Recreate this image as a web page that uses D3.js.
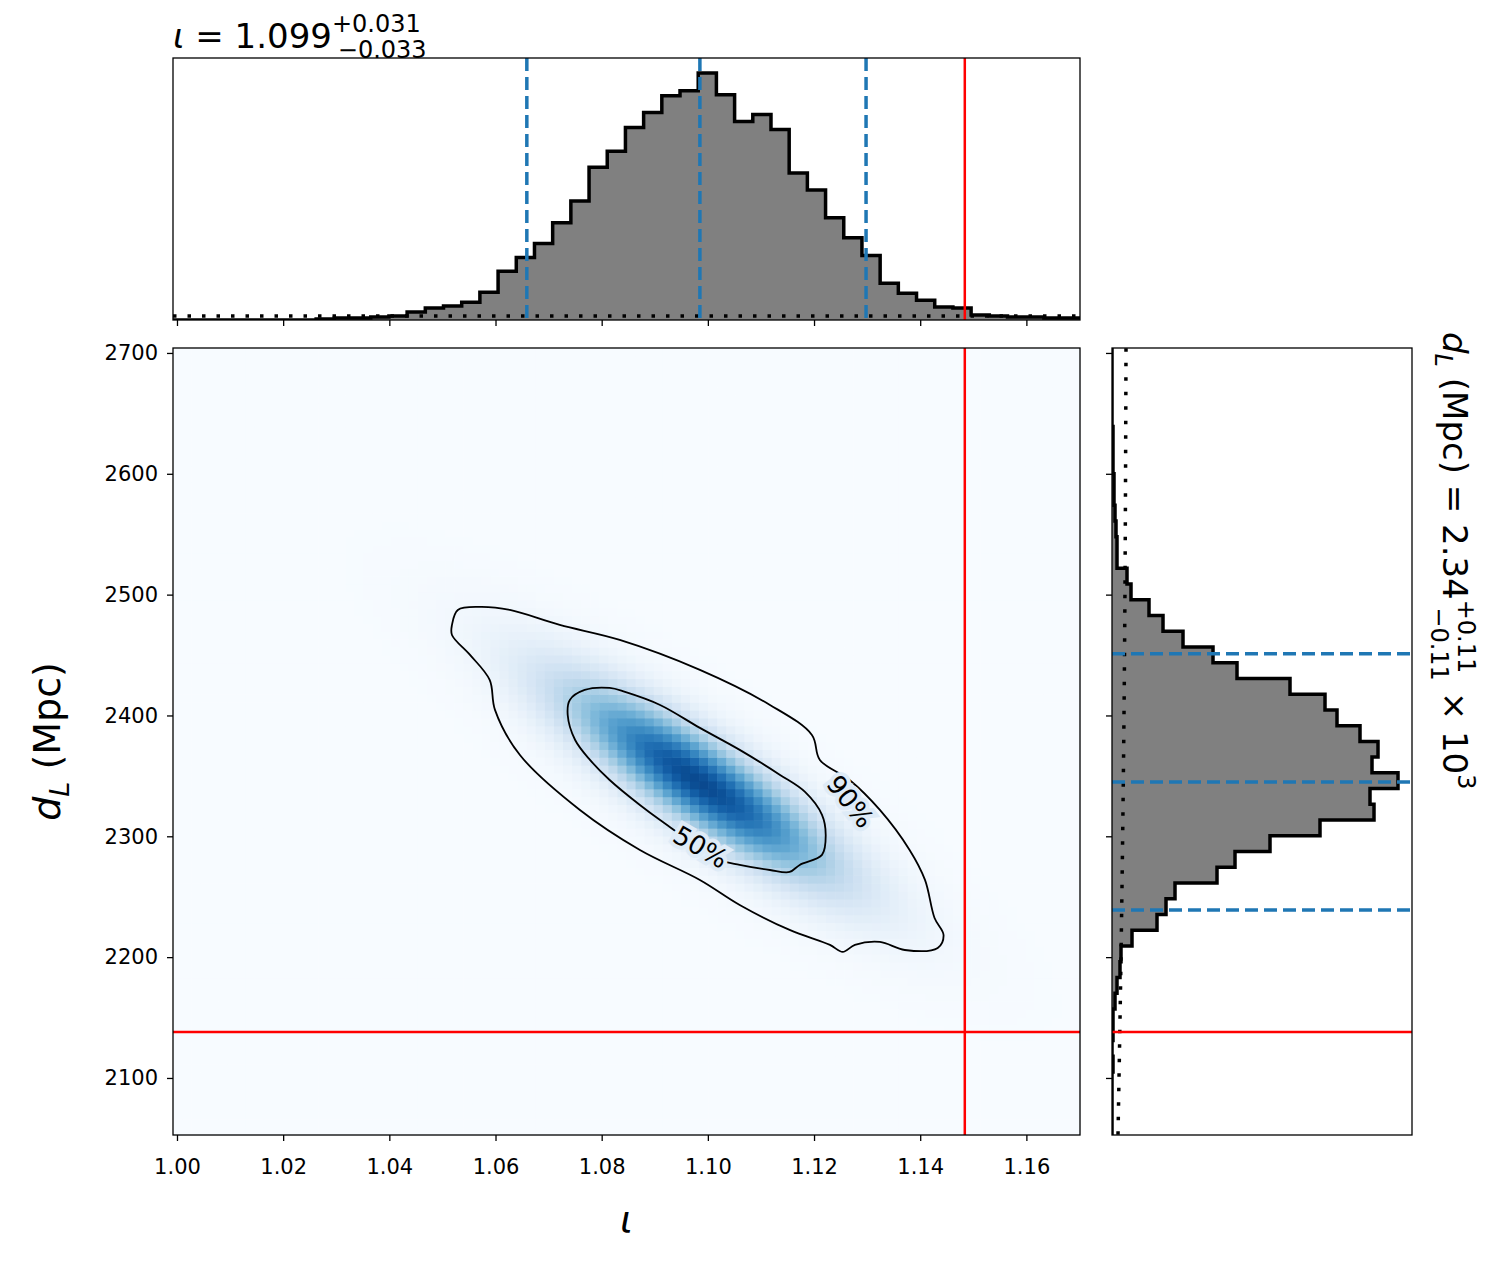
<!DOCTYPE html>
<html><head><meta charset="utf-8">
<script src="https://cdn.jsdelivr.net/npm/d3@7"></script>
<style>body{margin:0;background:#fff}text{font-family:"DejaVu Sans",sans-serif}</style>
</head><body><div id="chart"></div>
<script>
// marginal histogram of iota: 50 bins starting at 0.9988
const iotaBinStart = 0.9988, iotaBinWidth = 0.003427;
const iotaCounts = [0,0,0,0,0,0,0,0,1,2,2,3,4, 8,12,14,18,28,49,63,77,98,120,154,170,194,209,226,231,249,227,200,207,192,148,131,103,83,65,37,27,20,13,12,5, 4,3,3,2,2];
const iotaPrior = 4;
// marginal histogram of d_L: 50 bins starting at 2052.8 (bottom to top)
const dlBinStart = 2052.8, dlBinWidth = 13.03;
const dlCounts = [0,0,0,0,1,0,1,1,3,5,8,9,20,45,54,63,105,123,158,208,262,258,286,260,266,248,225,213,178,125,101,71,51,37,19,15,5,5,4,3,2,2,1,1,1,0,0,0,0,0];
const dlPrior = [[2053,6],[2200,9],[2400,12],[2704,14]];
// quantiles and true values
const iotaQuant = [1.0659, 1.0985, 1.1298];
const dlQuant = [2239, 2345, 2451];
const iotaTrue = 1.1484, dlTrue = 2138;
const xTicks = [1.00,1.02,1.04,1.06,1.08,1.10,1.12,1.14,1.16];
const yTicks = [2100,2200,2300,2400,2500,2600,2700];
// credible contours [iota, d_L]
const contour90 = [[1.0518,2474.9],[1.0529,2487.3],[1.0571,2489.8],[1.0627,2487.3],[1.0721,2474.9],[1.0834,2462.5],[1.0985,2437.7],[1.1117,2408.7],[1.1196,2383.9],[1.1211,2363.2],[1.1267,2346.6],[1.1324,2321.8],[1.1380,2288.7],[1.1409,2263.9],[1.1427,2232.4],[1.1444,2218.3],[1.1433,2207.6],[1.1371,2205.9],[1.1324,2212.6],[1.1277,2210.1],[1.1254,2204.3],[1.1230,2210.1],[1.1154,2222.5],[1.1060,2243.2],[1.0985,2263.9],[1.0872,2288.7],[1.0759,2321.8],[1.0646,2367.3],[1.0599,2404.6],[1.0589,2429.4],[1.0552,2450.1],[1.0518,2466.6]];
const contour50 = [[1.0740,2412.8],[1.0768,2421.1],[1.0815,2422.8],[1.0844,2419.5],[1.0910,2408.7],[1.0985,2389.7],[1.1060,2371.5],[1.1136,2350.8],[1.1183,2336.7],[1.1215,2317.7],[1.1222,2301.1],[1.1215,2284.6],[1.1173,2276.3],[1.1154,2270.5],[1.1117,2272.1],[1.1060,2276.3],[1.1023,2280.4],[1.0910,2313.5],[1.0872,2325.9],[1.0815,2346.6],[1.0778,2363.2],[1.0750,2379.7],[1.0736,2400.4]];
const labels = [{t:"90%", x:1.1266, y:2328, rot:52},{t:"50%", x:1.0985, y:2290, rot:30}];
// estimated posterior shape for the density image
const densCenter = [1.0985, 2345], densSigma = [0.0165, 52], densRho = -0.86;
const nCells = 100;

const W = 1502, H = 1263;
const svg = d3.select("#chart").append("svg").attr("width", W).attr("height", H);
const main = {l:173, r:1080, t:348, b:1135};
const top_ = {t:58, b:320};
const side = {l:1112, r:1412};

const x = d3.scaleLinear().domain([0.99925, 1.1701]).range([main.l, main.r]);
const y = d3.scaleLinear().domain([2052.8, 2704.1]).range([main.b, main.t]);
const yTop = d3.scaleLinear().domain([0, 264]).range([top_.b, top_.t]);
const xSide = d3.scaleLinear().domain([0, 300]).range([side.l, side.r]);

// density image
const gImg = svg.append("g");
const [xd0, xd1] = x.domain(), [yd0, yd1] = y.domain();
const dx = (xd1 - xd0) / nCells, dy = (yd1 - yd0) / nCells;
const cells = [];
for (let i = 0; i < nCells; i++) for (let j = 0; j < nCells; j++) {
  const cx = xd0 + (i + 0.5) * dx, cy = yd0 + (j + 0.5) * dy;
  const u = (cx - densCenter[0]) / densSigma[0], v = (cy - densCenter[1]) / densSigma[1];
  const q = (u*u - 2*densRho*u*v + v*v) / (1 - densRho*densRho);
  const val = Math.exp(-q / 2) * 0.88 + Math.exp(-q / 5) * 0.07;
  cells.push({x0: xd0 + i*dx, y0: yd0 + j*dy, val});
}
const color = d3.scaleSequential(d3.interpolateBlues).domain([0, 1.05]);
gImg.selectAll("rect").data(cells).join("rect")
  .attr("x", d => x(d.x0)).attr("y", d => y(d.y0 + dy))
  .attr("width", x(xd0 + dx) - x(xd0) + 0.6).attr("height", y(yd0) - y(yd0 + dy) + 0.6)
  .attr("fill", d => color(d.val));

const line = d3.line().x(d => x(d[0])).y(d => y(d[1])).curve(d3.curveCatmullRomClosed);
[contour90, contour50].forEach(c => svg.append("path").attr("d", line(c))
  .attr("fill", "none").attr("stroke", "#000").attr("stroke-width", 1.8));
labels.forEach(l => svg.append("text")
  .attr("transform", `translate(${x(l.x)},${y(l.y)}) rotate(${l.rot})`)
  .attr("text-anchor", "middle").attr("dominant-baseline", "middle")
  .attr("font-size", 26).attr("paint-order", "stroke")
  .attr("stroke", "#deebf7").attr("stroke-width", 8).text(l.t));

// true value lines in main
svg.append("line").attr("x1", x(iotaTrue)).attr("x2", x(iotaTrue)).attr("y1", main.t).attr("y2", main.b).attr("stroke", "red").attr("stroke-width", 2.5);
svg.append("line").attr("x1", main.l).attr("x2", main.r).attr("y1", y(dlTrue)).attr("y2", y(dlTrue)).attr("stroke", "red").attr("stroke-width", 2.5);
svg.append("rect").attr("x", main.l).attr("y", main.t).attr("width", main.r - main.l).attr("height", main.b - main.t).attr("fill", "none").attr("stroke", "#000").attr("stroke-width", 1.3);

// axes main
const ax = svg.append("g").attr("transform", `translate(0,${main.b})`)
  .call(d3.axisBottom(x).tickValues(xTicks).tickFormat(d3.format(".2f")).tickSize(6).tickPadding(18));
const ay = svg.append("g").attr("transform", `translate(${main.l},0)`)
  .call(d3.axisLeft(y).tickValues(yTicks).tickFormat(d3.format("d")).tickSize(6).tickPadding(9));
[ax, ay].forEach(a => { a.select(".domain").remove(); a.selectAll("text").attr("font-size", 21).attr("fill", "#000"); a.selectAll("line").attr("stroke-width", 1.3); });
ax.selectAll("line").attr("y2", 6);

// top histogram
const iotaBins = iotaCounts.map((c, i) => ({x0: iotaBinStart + i*iotaBinWidth, x1: iotaBinStart + (i+1)*iotaBinWidth, c}));
const stepTop = [];
iotaBins.forEach(b => { stepTop.push([b.x0, b.c]); stepTop.push([b.x1, b.c]); });
svg.append("clipPath").attr("id", "ct").append("rect").attr("x", main.l).attr("y", top_.t).attr("width", main.r - main.l).attr("height", top_.b - top_.t);
const gTop = svg.append("g").attr("clip-path", "url(#ct)");
gTop.append("path").attr("d", d3.area().x(d => x(d[0])).y0(yTop(0)).y1(d => yTop(d[1]))(stepTop)).attr("fill", "#808080");
gTop.append("path").attr("d", d3.line().x(d => x(d[0])).y(d => yTop(d[1]))(stepTop)).attr("fill", "none").attr("stroke", "#000").attr("stroke-width", 3.5);
gTop.append("line").attr("x1", main.l).attr("x2", main.r).attr("y1", yTop(iotaPrior)).attr("y2", yTop(iotaPrior)).attr("stroke", "#000").attr("stroke-width", 3.5).attr("stroke-dasharray", "3.5,11");
iotaQuant.forEach(q => gTop.append("line").attr("x1", x(q)).attr("x2", x(q)).attr("y1", top_.t).attr("y2", top_.b).attr("stroke", "#1f77b4").attr("stroke-width", 3.5).attr("stroke-dasharray", "13,6"));
gTop.append("line").attr("x1", x(iotaTrue)).attr("x2", x(iotaTrue)).attr("y1", top_.t).attr("y2", top_.b).attr("stroke", "red").attr("stroke-width", 2.5);
svg.append("rect").attr("x", main.l).attr("y", top_.t).attr("width", main.r - main.l).attr("height", top_.b - top_.t).attr("fill", "none").attr("stroke", "#000").attr("stroke-width", 1.3);
const axt = svg.append("g").attr("transform", `translate(0,${top_.b})`).call(d3.axisBottom(x).tickValues(xTicks).tickFormat("").tickSize(6));
axt.select(".domain").remove(); axt.selectAll("line").attr("stroke-width", 1.3);

// side histogram
const dlBins = dlCounts.map((c, i) => ({y0: dlBinStart + i*dlBinWidth, y1: dlBinStart + (i+1)*dlBinWidth, c}));
const stepSide = [];
dlBins.forEach(b => { stepSide.push([b.c, b.y0]); stepSide.push([b.c, b.y1]); });
svg.append("clipPath").attr("id", "cs").append("rect").attr("x", side.l).attr("y", main.t).attr("width", side.r - side.l).attr("height", main.b - main.t);
const gSide = svg.append("g").attr("clip-path", "url(#cs)");
gSide.append("path").attr("d", d3.area().y(d => y(d[1])).x0(xSide(0)).x1(d => xSide(d[0]))(stepSide)).attr("fill", "#808080");
gSide.append("path").attr("d", d3.line().x(d => xSide(d[0])).y(d => y(d[1]))(stepSide)).attr("fill", "none").attr("stroke", "#000").attr("stroke-width", 3.5);
gSide.append("path").attr("d", d3.line().x(d => xSide(d[1])).y(d => y(d[0])).curve(d3.curveMonotoneY)(dlPrior)).attr("fill", "none").attr("stroke", "#000").attr("stroke-width", 3.5).attr("stroke-dasharray", "3.5,11");
dlQuant.forEach(q => gSide.append("line").attr("x1", side.l).attr("x2", side.r).attr("y1", y(q)).attr("y2", y(q)).attr("stroke", "#1f77b4").attr("stroke-width", 3.5).attr("stroke-dasharray", "13,6"));
gSide.append("line").attr("x1", side.l).attr("x2", side.r).attr("y1", y(dlTrue)).attr("y2", y(dlTrue)).attr("stroke", "red").attr("stroke-width", 2.5);
svg.append("rect").attr("x", side.l).attr("y", main.t).attr("width", side.r - side.l).attr("height", main.b - main.t).attr("fill", "none").attr("stroke", "#000").attr("stroke-width", 1.3);
const ays = svg.append("g").attr("transform", `translate(${side.l},0)`).call(d3.axisLeft(y).tickValues(yTicks).tickFormat("").tickSize(6));
ays.select(".domain").remove(); ays.selectAll("line").attr("stroke-width", 1.3);

// titles and labels
const t1 = svg.append("text").attr("x", main.l).attr("y", 48).attr("font-size", 34);
t1.append("tspan").attr("font-style", "italic").text("ι");
t1.append("tspan").text(" = 1.099");
t1.append("tspan").attr("font-size", 24).attr("dy", -16).text("+0.031");
t1.append("tspan").attr("font-size", 24).attr("dx", -83).attr("dy", 26).text("−0.033");

svg.append("text").attr("x", (main.l + main.r) / 2).attr("y", 1232).attr("text-anchor", "middle").attr("font-size", 38).attr("font-style", "italic").text("ι");

const yl = svg.append("text").attr("transform", `translate(60,${(main.t + main.b) / 2}) rotate(-90)`).attr("text-anchor", "middle").attr("font-size", 38);
yl.append("tspan").attr("font-style", "italic").text("d");
yl.append("tspan").attr("font-style", "italic").attr("font-size", 27).attr("dy", 9).text("L");
yl.append("tspan").attr("dy", -9).text(" (Mpc)");

const rl = svg.append("text").attr("transform", `translate(1443,332) rotate(90)`).attr("font-size", 34);
rl.append("tspan").attr("font-style", "italic").text("d");
rl.append("tspan").attr("font-style", "italic").attr("font-size", 24).attr("dy", 8).text("L");
rl.append("tspan").attr("dy", -8).text(" (Mpc) = 2.34");
rl.append("tspan").attr("font-size", 24).attr("dy", -15).text("+0.11");
rl.append("tspan").attr("font-size", 24).attr("dx", -66).attr("dy", 27).text("−0.11");
rl.append("tspan").attr("dy", -12).text(" × 10");
rl.append("tspan").attr("font-size", 24).attr("dy", -15).text("3");
</script></body></html>
